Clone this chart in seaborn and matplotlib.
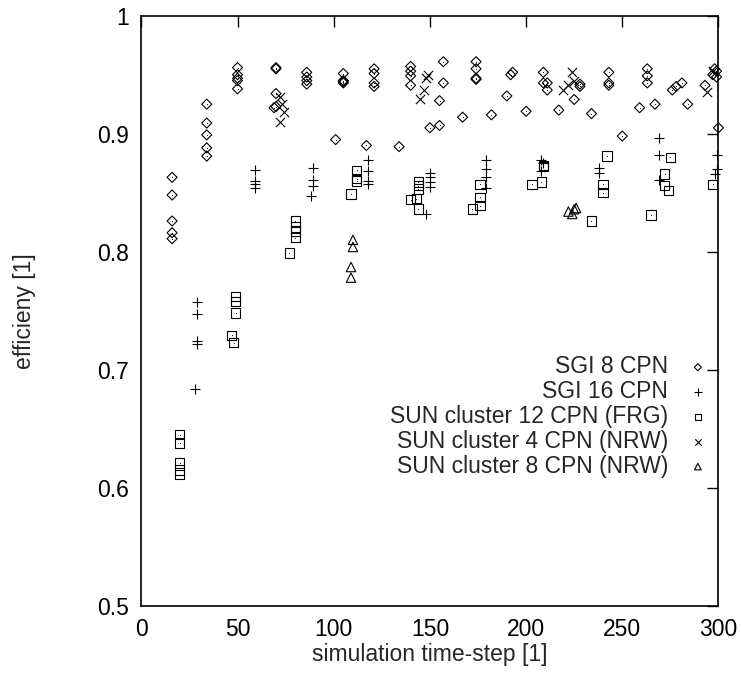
import seaborn as sns
import matplotlib.pyplot as plt

# values
sgi8_x = [16, 16, 16, 16, 16, 34, 34, 34, 34, 34, 50, 50, 50, 50, 50,
          70, 70, 70, 70, 69, 86, 86, 86, 86, 101, 105, 105, 105, 105, 117,
          121, 121, 121, 121, 134, 140, 140, 140, 140, 150, 155, 155, 157, 157,
          167, 174, 174, 174, 174, 182, 190, 192, 193, 200, 209, 209, 211, 211,
          217, 225, 228, 228, 234, 243, 243, 243, 250, 259, 263, 263, 263, 267,
          276, 278, 281, 284, 293, 297, 299, 300, 298, 299]
sgi8_y = [0.863, 0.848, 0.826, 0.816, 0.811, 0.925, 0.909, 0.899, 0.888, 0.881,
          0.956, 0.950, 0.947, 0.945, 0.938, 0.956, 0.955, 0.934, 0.923, 0.922,
          0.952, 0.948, 0.945, 0.942, 0.895, 0.951, 0.945, 0.944, 0.943, 0.890,
          0.955, 0.951, 0.943, 0.940, 0.889, 0.957, 0.953, 0.949, 0.941, 0.905,
          0.907, 0.928, 0.961, 0.943, 0.914, 0.961, 0.955, 0.947, 0.946, 0.916,
          0.932, 0.950, 0.952, 0.919, 0.952, 0.943, 0.943, 0.937, 0.920, 0.929,
          0.942, 0.940, 0.917, 0.952, 0.943, 0.941, 0.898, 0.922, 0.955, 0.949,
          0.943, 0.925, 0.937, 0.940, 0.943, 0.925, 0.941, 0.950, 0.953, 0.905,
          0.955, 0.948]

sgi16_x = [29, 29, 29, 29, 28, 59, 59, 59, 59, 89, 89, 89, 88,
           118, 118, 118, 118, 150, 150, 150, 150, 148, 179, 179, 179, 179,
           208, 208, 209, 238, 238, 269, 269, 269, 299, 299, 298]
sgi16_y = [0.757, 0.747, 0.724, 0.722, 0.684, 0.869, 0.860, 0.857, 0.854,
           0.871, 0.861, 0.856, 0.847, 0.878, 0.868, 0.860, 0.857,
           0.867, 0.863, 0.859, 0.855, 0.832, 0.878, 0.870, 0.863, 0.854,
           0.878, 0.868, 0.875, 0.871, 0.867, 0.896, 0.882, 0.861,
           0.882, 0.870, 0.866]

sun12_x = [20, 20, 20, 20, 20, 49, 49, 49, 47, 48, 77, 80, 80, 80, 80,
           109, 112, 112, 112, 144, 144, 144, 144, 140, 143, 176, 176, 176, 172,
           209, 209, 203, 208, 242, 240, 240, 234, 275, 272, 272, 274, 265, 297]
sun12_y = [0.645, 0.638, 0.621, 0.615, 0.611, 0.762, 0.758, 0.748, 0.729, 0.723,
           0.799, 0.826, 0.821, 0.817, 0.812, 0.849, 0.869, 0.862, 0.860,
           0.859, 0.856, 0.853, 0.836, 0.844, 0.845, 0.857, 0.846, 0.839, 0.836,
           0.873, 0.872, 0.857, 0.859, 0.881, 0.857, 0.850, 0.826,
           0.880, 0.866, 0.856, 0.852, 0.831, 0.857]

sun4_x = [72, 73, 74, 72, 149, 148, 147, 145, 224, 225, 222, 219, 297, 294]
sun4_y = [0.931, 0.925, 0.918, 0.910, 0.950, 0.947, 0.937, 0.929,
          0.952, 0.945, 0.941, 0.937, 0.953, 0.935]

sun8_x = [110, 110, 109, 109, 222, 225, 224, 226]
sun8_y = [0.810, 0.804, 0.787, 0.778, 0.834, 0.836, 0.832, 0.837]

labels = ["SGI 8 CPN", "SGI 16 CPN", "SUN cluster 12 CPN (FRG)",
          "SUN cluster 4 CPN (NRW)", "SUN cluster 8 CPN (NRW)"]

sns.set_style("white")
plt.rcParams['font.family'] = ['Liberation Sans', 'DejaVu Sans']
FS = 16.5

fig = plt.figure(figsize=(7.41, 6.73), dpi=100)
ax = fig.add_axes([0.1907, 0.100, 0.7789, 0.8767])

open_kw = dict(facecolor="none", edgecolor="black", linewidths=0.8)
line_kw = dict(color="black", linewidths=0.8)
series = [
    (sgi8_x, sgi8_y, "D", 26, open_kw),
    (sgi16_x, sgi16_y, "+", 52, line_kw),
    (sun12_x, sun12_y, "s", 46, open_kw),
    (sun4_x, sun4_y, "x", 44, line_kw),
    (sun8_x, sun8_y, "^", 46, open_kw),
]
for (xs, ys, m, s, kw), lab in zip(series, labels):
    sns.scatterplot(x=xs, y=ys, marker=m, s=s, ax=ax, label=lab, clip_on=False, **kw)

# gnuplot puts a small dot in the middle of the open symbols
for xs, ys in [(sgi8_x, sgi8_y), (sun12_x, sun12_y)]:
    sns.scatterplot(x=xs, y=ys, marker="o", s=0.6, color="black", linewidth=0,
                    ax=ax, legend=False, clip_on=False)

ax.set_xlim(0, 300)
ax.set_ylim(0.5, 1.0)
ax.set_xticks([0, 50, 100, 150, 200, 250, 300])
ax.set_yticks([0.5, 0.6, 0.7, 0.8, 0.9, 1.0])
ax.set_yticklabels(["0.5", "0.6", "0.7", "0.8", "0.9", "1"])
ax.tick_params(direction="in", length=8, width=1, top=True, right=True,
               labelsize=FS, pad=9, colors="black")
for sp in ax.spines.values():
    sp.set_color("black")
    sp.set_linewidth(1.2)

ax.set_xlabel("simulation time-step [1]", fontsize=FS)
ax.set_ylabel("efficieny [1]", fontsize=FS)
ax.xaxis.set_label_coords(0.5, -0.063)
ax.yaxis.set_label_coords(-0.183, 0.5)

leg = ax.legend(loc="upper right", bbox_to_anchor=(1.0, 0.44), frameon=False,
                markerfirst=False, fontsize=FS, handlelength=1.0, handletextpad=0.8,
                labelspacing=0.08, borderaxespad=0, markerscale=0.7)
leg._legend_box.align = "right"

fig.savefig("out.png", dpi=100)
